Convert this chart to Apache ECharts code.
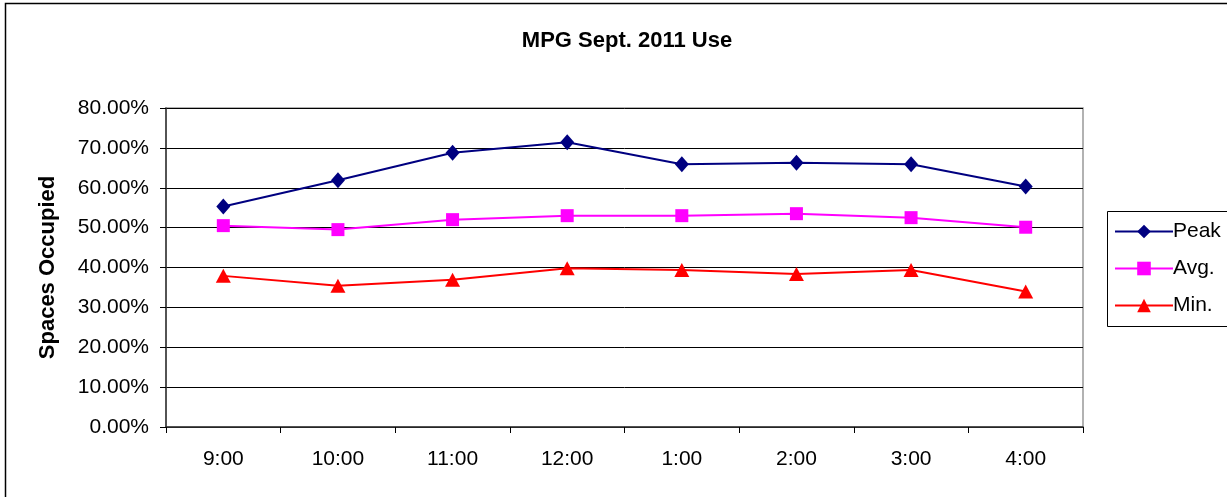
<!DOCTYPE html>
<html>
<head>
<meta charset="utf-8">
<script src="https://cdn.jsdelivr.net/npm/echarts@6/dist/echarts.min.js"></script>
<style>
html,body{margin:0;padding:0;background:#fff;}
#chart{width:1227px;height:497px;}
</style>
</head>
<body>
<div id="chart"></div>
<script>
const categories = ['9:00','10:00','11:00','12:00','1:00','2:00','3:00','4:00'];
const peak = [55.3, 61.9, 68.8, 71.4, 65.9, 66.3, 65.9, 60.3];
const avg  = [50.5, 49.5, 52.0, 53.0, 53.0, 53.5, 52.5, 50.1];
const minV = [37.9, 35.4, 36.9, 39.8, 39.4, 38.4, 39.4, 34.0];
const yTicks = { min: 0, max: 80, interval: 10 };

const FONT = 'Liberation Sans, Arial, sans-serif';
const chart = echarts.init(document.getElementById('chart'), null, {renderer: 'canvas'});

function lineSeries(name, data, color, symbol, size) {
  return {
    name: name, type: 'line', data: data,
    symbol: symbol, symbolSize: size,
    showAllSymbol: true,
    lineStyle: {color: color, width: 2},
    itemStyle: {color: color, borderWidth: 0},
    emphasis: {disabled: true},
    animation: false
  };
}

chart.setOption({
  backgroundColor: '#fff',
  animation: false,
  title: {
    text: 'MPG Sept. 2011 Use',
    left: 622, top: 25, textAlign: 'center',
    textStyle: {fontFamily: FONT, fontSize: 22, fontWeight: 'bold', color: '#000'}
  },
  grid: {
    left: 166, top: 108, right: 144, bottom: 70,
    show: true, borderColor: '#999', borderWidth: 1.5, backgroundColor: '#fff'
  },
  legend: {
    orient: 'vertical',
    left: 1109, top: 216,
    itemWidth: 58, itemHeight: 17, itemGap: 16,
    textStyle: {fontFamily: FONT, fontSize: 21, color: '#000', padding: [0,0,0,-5]},
    data: ['Peak','Avg.','Min.']
  },
  xAxis: {
    type: 'category', data: categories, boundaryGap: true,
    axisLine: {lineStyle: {color: '#333', width: 1.5}},
    axisTick: {show: true, length: 6, lineStyle: {color: '#000'}},
    axisLabel: {fontFamily: FONT, fontSize: 21, color: '#000', margin: 22},
    splitLine: {show: false}
  },
  yAxis: {
    type: 'value', min: yTicks.min, max: yTicks.max, interval: yTicks.interval,
    name: 'Spaces Occupied', nameLocation: 'middle', nameGap: 107, nameRotate: 90,
    nameTextStyle: {fontFamily: FONT, fontSize: 22, fontWeight: 'bold', color: '#000'},
    axisLine: {show: true, lineStyle: {color: '#333', width: 1.5}},
    axisTick: {show: true, length: 6, inside: false, lineStyle: {color: '#000'}},
    axisLabel: {fontFamily: FONT, fontSize: 21, color: '#000', margin: 17,
      formatter: v => v.toFixed(2) + '%'},
    splitLine: {show: true, lineStyle: {color: '#000', width: 1}}
  },
  graphic: [
    {type: 'rect', left: 3, top: 1, shape: {x: 0, y: 0, width: 1240, height: 520},
     style: {fill: 'none', stroke: '#000', lineWidth: 1.5}, silent: true, z: -1},
    {type: 'rect', left: 1105, top: 209, shape: {x: 0, y: 0, width: 121, height: 115},
     style: {fill: 'none', stroke: '#000', lineWidth: 1}, silent: true}
  ],
  series: [
    lineSeries('Peak', peak, '#000080', 'diamond', [14, 16]),
    lineSeries('Avg.', avg, '#FF00FF', 'rect', 13),
    lineSeries('Min.', minV, '#FF0000', 'triangle', [15, 14])
  ]
});
</script>
</body>
</html>
